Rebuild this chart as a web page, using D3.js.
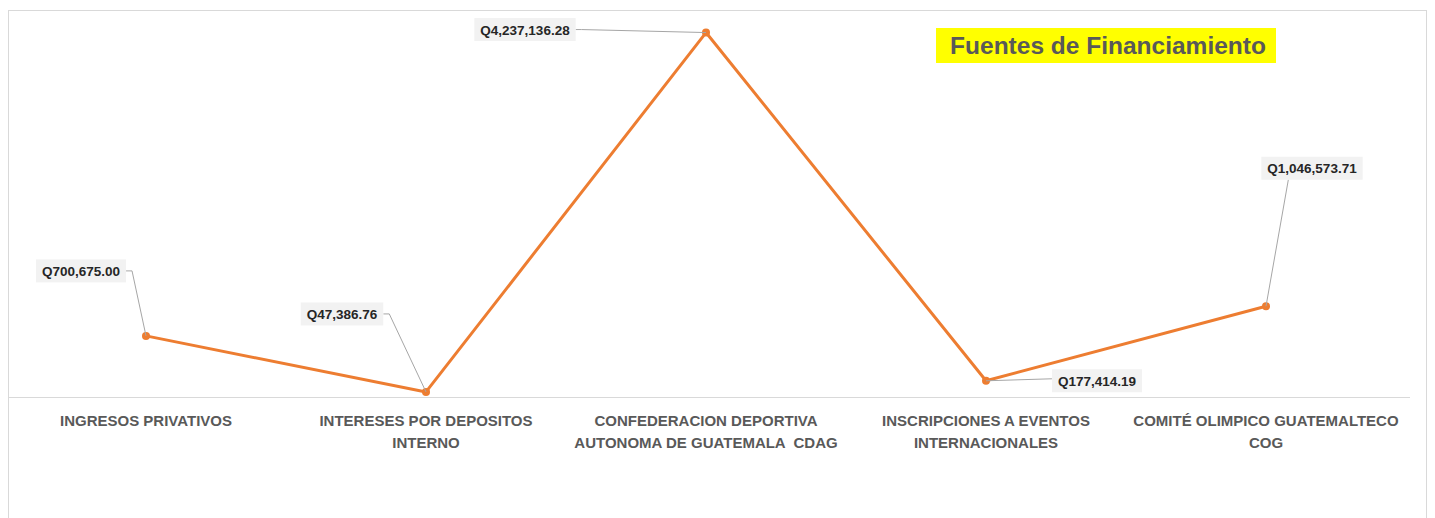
<!DOCTYPE html>
<html>
<head>
<meta charset="utf-8">
<script src="https://cdnjs.cloudflare.com/ajax/libs/d3/7.8.5/d3.min.js"></script>
<style>
  body { margin: 0; background: #fff; }
  #chart { width: 1435px; height: 518px; }
  .cat { font-family: "Liberation Sans", Arial, sans-serif; font-size: 15px; font-weight: bold; fill: #595959; white-space: pre; }
  .lbl { font-family: "Liberation Sans", Arial, sans-serif; font-size: 13.5px; font-weight: bold; fill: #262626; }
</style>
</head>
<body>
<div id="chart"></div>
<script>
// fuentes de financiamiento
var categories = [
    ["INGRESOS PRIVATIVOS"],
    ["INTERESES POR DEPOSITOS", "INTERNO"],
    ["CONFEDERACION DEPORTIVA", "AUTONOMA DE GUATEMALA  CDAG"],
    ["INSCRIPCIONES A EVENTOS", "INTERNACIONALES"],
    ["COMITÉ OLIMPICO GUATEMALTECO", "COG"]
];
var values = [700675.00, 47386.76, 4237136.28, 177414.19, 1046573.71];
var labels = ["Q700,675.00", "Q47,386.76", "Q4,237,136.28", "Q177,414.19", "Q1,046,573.71"];

// where each data label was dragged to (offset from its point)
var labelOffsets = [[-65, -65], [-84, -78], [-181, -3], [111, 0], [46, -138]];

var width = 1435, height = 518;

var svg = d3.select("#chart")
    .append("svg")
    .attr("width", width)
    .attr("height", height);

// chart area border
svg.append("rect")
    .attr("x", 8.5)
    .attr("y", 10.5)
    .attr("width", 1418)
    .attr("height", 520)
    .attr("fill", "white")
    .attr("stroke", "#d9d9d9");

var xScale = d3.scaleBand()
    .domain(d3.range(categories.length))
    .range([6, 1406]);

var yScale = d3.scaleLinear()
    .domain([0, 4500000])
    .range([396, 10]);

var cx = function(i) { return xScale(i) + xScale.bandwidth() / 2; };

// category axis
svg.append("line")
    .attr("x1", 8).attr("x2", 1410)
    .attr("y1", 397.5).attr("y2", 397.5)
    .attr("stroke", "#d9d9d9");

var cat = svg.selectAll(".cat")
    .data(categories)
    .enter()
    .append("text")
    .attr("class", "cat")
    .attr("text-anchor", "middle")
    .attr("x", function(d, i) { return cx(i); })
    .attr("y", 426);

cat.selectAll("tspan")
    .data(function(d) { return d; })
    .enter()
    .append("tspan")
    .attr("x", function() { return d3.select(this.parentNode).attr("x"); })
    .attr("dy", function(d, j) { return j === 0 ? 0 : 22; })
    .text(function(d) { return d; });

// line + markers
var line = d3.line()
    .x(function(d, i) { return cx(i); })
    .y(function(d) { return yScale(d); });

svg.append("path")
    .datum(values)
    .attr("d", line)
    .attr("fill", "none")
    .attr("stroke", "#ed7d31")
    .attr("stroke-width", 3)
    .attr("stroke-linejoin", "round");

svg.selectAll(".dot")
    .data(values)
    .enter()
    .append("circle")
    .attr("class", "dot")
    .attr("cx", function(d, i) { return cx(i); })
    .attr("cy", function(d) { return yScale(d); })
    .attr("r", 4)
    .attr("fill", "#ed7d31");

// data labels with leader lines
var lab = svg.selectAll(".lab")
    .data(values)
    .enter()
    .append("g")
    .attr("class", "lab");

lab.each(function(d, i) {
    var g = d3.select(this);
    var px = cx(i), py = yScale(d);
    var bx = px + labelOffsets[i][0], by = py + labelOffsets[i][1];

    var t = g.append("text")
        .attr("class", "lbl")
        .attr("x", bx)
        .attr("y", by + 5)
        .attr("text-anchor", "middle")
        .text(labels[i]);
    var w = t.node().getComputedTextLength() + 12, h = 23;
    var x0 = bx - w / 2, x1 = bx + w / 2;

    var pts;
    if (px > x0 && px < x1) {
        pts = [[bx - w / 2 + 27, by + h / 2], [px, py]];
    } else if (px > x1) {
        pts = [[x1, by], [x1 + 6, by], [px, py]];
    } else {
        pts = [[x0, by - 2], [px, py]];
    }
    g.insert("path", "text")
        .attr("d", d3.line()(pts))
        .attr("fill", "none")
        .attr("stroke", "#a6a6a6")
        .attr("stroke-width", 1);

    g.insert("rect", "text")
        .attr("x", x0)
        .attr("y", by - h / 2)
        .attr("width", w)
        .attr("height", h)
        .attr("fill", "#f2f2f2");
});

// title
var title = svg.append("g");
title.append("rect")
    .attr("x", 936)
    .attr("y", 28)
    .attr("width", 340)
    .attr("height", 35)
    .attr("fill", "#ffff00");
title.append("text")
    .attr("x", 1108)
    .attr("y", 54)
    .attr("text-anchor", "middle")
    .attr("font-family", "'Liberation Sans', Arial, sans-serif")
    .attr("font-size", 24.5)
    .attr("font-weight", "bold")
    .attr("fill", "#595959")
    .text("Fuentes de Financiamiento");
</script>
</body>
</html>
